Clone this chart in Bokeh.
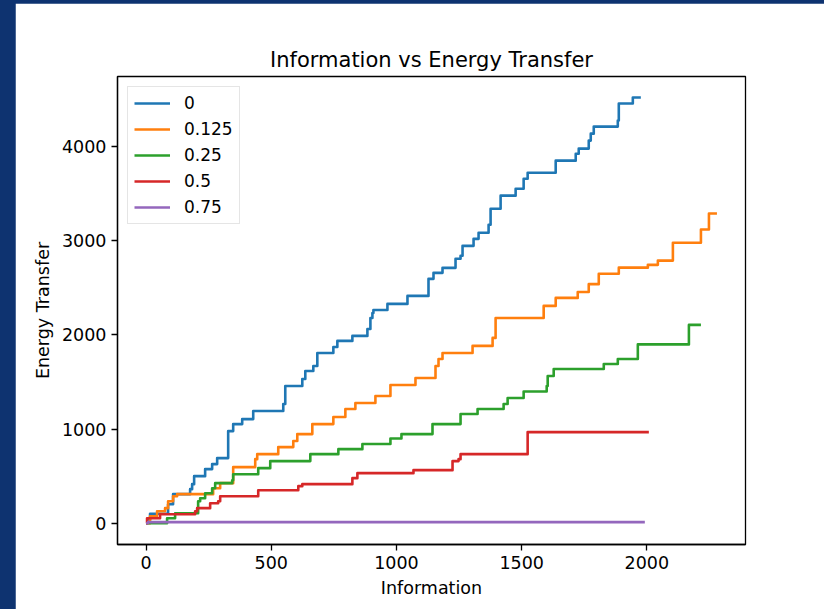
from bokeh.plotting import figure
from bokeh.embed import file_html
from bokeh.resources import INLINE
from bokeh.models import FixedTicker, Range1d
from bokeh.layouts import column

title_text = "Information vs Energy Transfer"
x_label = "Information"
y_label = "Energy Transfer"
x_ticks = [0, 500, 1000, 1500, 2000]
y_ticks = [0, 1000, 2000, 3000, 4000]
series_names = ["0", "0.125", "0.25", "0.5", "0.75"]
series_colors = ["#1f77b4", "#ff7f0e", "#2ca02c", "#d62728", "#9467bd"]

blue_x = [0, 16, 88, 108, 176, 184, 192, 236, 264, 284, 328, 348, 384, 428, 548, 556, 624, 636,
          668, 684, 748, 764, 824, 884, 896, 904, 908, 964, 1044, 1128, 1148, 1184, 1236, 1256,
          1264, 1308, 1328, 1368, 1376, 1416, 1476, 1508, 1524, 1636, 1716, 1728, 1768, 1776,
          1788, 1884, 1888, 1944, 1976]
blue_y = [40, 100, 202, 309, 362, 415, 500, 575, 628, 692, 979, 1053, 1106, 1192, 1266, 1458,
          1532, 1617, 1670, 1809, 1873, 1937, 1990, 2064, 2181, 2234, 2266, 2330, 2415, 2596,
          2660, 2713, 2809, 2841, 2947, 3021, 3086, 3171, 3341, 3480, 3554, 3660, 3724, 3852,
          3926, 3980, 4065, 4139, 4214, 4278, 4459, 4523, 4523]

orange_x = [0, 16, 44, 76, 88, 108, 124, 268, 296, 348, 436, 444, 528, 588, 604, 664, 748, 796,
            836, 916, 976, 1076, 1156, 1168, 1184, 1304, 1384, 1396, 1588, 1636, 1724, 1768,
            1808, 1888, 2004, 2044, 2104, 2216, 2248, 2280]
orange_y = [0, 74, 128, 160, 234, 287, 309, 372, 426, 596, 681, 734, 809, 873, 947, 1053, 1128,
            1213, 1277, 1351, 1468, 1543, 1670, 1745, 1809, 1884, 1969, 2181, 2309, 2394, 2457,
            2540, 2650, 2715, 2745, 2790, 2980, 3120, 3290, 3290]

green_x = [0, 84, 116, 208, 216, 236, 264, 276, 344, 348, 448, 496, 656, 768, 864, 976, 1020,
           1144, 1256, 1324, 1428, 1444, 1508, 1600, 1604, 1628, 1828, 1884, 1964, 2168, 2216]
green_y = [0, 53, 106, 234, 266, 319, 372, 426, 457, 521, 585, 660, 734, 787, 841, 900, 947,
           1053, 1160, 1213, 1266, 1330, 1400, 1458, 1564, 1638, 1692, 1745, 1900, 2107, 2107]

red_x = [0, 4, 56, 196, 204, 256, 288, 296, 448, 608, 624, 824, 844, 1068, 1224, 1248, 1256,
         1524, 2008]
red_y = [0, 53, 96, 128, 160, 213, 234, 287, 351, 394, 415, 479, 532, 564, 660, 681, 734, 968,
         968]

purple_x = [0, 8, 1992]
purple_y = [0, 12, 12]

series_x = [blue_x, orange_x, green_x, red_x, purple_x]
series_y = [blue_y, orange_y, green_y, red_y, purple_y]

FONT = "DejaVu Sans"
NAVY = "#0e3370"

p = figure(width=809, height=606, output_backend="svg", toolbar_location=None,
           x_range=Range1d(-114, 2394), y_range=Range1d(-226, 4746),
           min_border_left=102, min_border_right=79, min_border_top=73, min_border_bottom=65,
           margin=(3, 0, 0, 15))
p.border_fill_color = "white"
p.background_fill_color = "white"
p.outline_line_color = "black"
p.outline_line_width = 1.3
p.xgrid.visible = False
p.ygrid.visible = False

p.title.text = title_text
p.title.align = "center"
p.title.text_font = FONT
p.title.text_font_size = "21px"
p.title.text_font_style = "normal"
p.title.text_color = "black"
p.title.standoff = 9

for ax, ticks, lab in ((p.xaxis[0], x_ticks, x_label), (p.yaxis[0], y_ticks, y_label)):
    ax.ticker = FixedTicker(ticks=ticks)
    ax.axis_label = lab
    ax.axis_label_text_font = FONT
    ax.axis_label_text_font_size = "17.5px"
    ax.axis_label_text_font_style = "normal"
    ax.axis_label_text_color = "black"
    ax.major_label_text_font = FONT
    ax.major_label_text_font_size = "17.5px"
    ax.major_label_text_color = "black"
    ax.major_tick_in = 0
    ax.major_tick_out = 6
    ax.major_tick_line_width = 1.3
    ax.minor_tick_line_color = None
    ax.axis_line_width = 1.3
    ax.major_label_standoff = 5
    ax.axis_label_standoff = 6

for xs, ys, name, col in zip(series_x, series_y, series_names, series_colors):
    p.step(xs, ys, mode="after", line_color=col, line_width=2.6, line_join="round",
           legend_label=name)

lg = p.legend[0]
lg.location = "top_left"
lg.margin = 10
lg.padding = 6
lg.spacing = 6
lg.glyph_width = 36
lg.glyph_height = 20
lg.label_height = 20
lg.label_standoff = 14
lg.label_text_font = FONT
lg.label_text_font_size = "17px"
lg.label_text_color = "black"
lg.border_line_color = "#cccccc"
lg.border_line_width = 1
lg.background_fill_color = "white"
lg.background_fill_alpha = 0.8

root = column(p, width=824, height=609, styles={"background-color": NAVY})

html = file_html(root, INLINE)
html = html.replace("</head>",
                    "<style>html,body{margin:0;padding:0;background:%s !important;}</style></head>" % NAVY, 1)
open("out.html", "w").write(html)
